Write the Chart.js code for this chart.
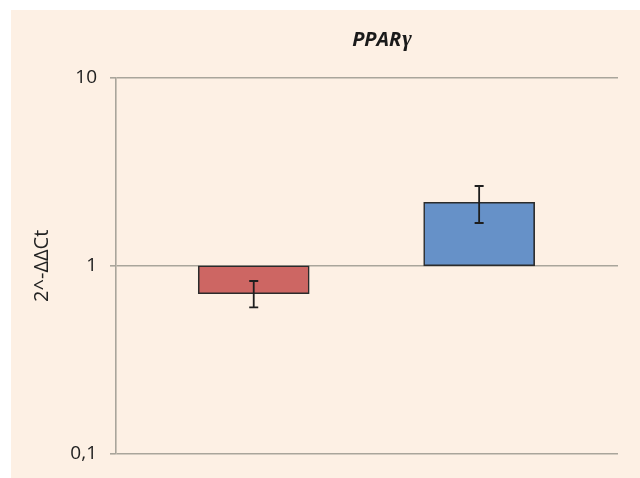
<!DOCTYPE html>
<html>
<head>
<meta charset="utf-8">
<script src="https://cdn.jsdelivr.net/npm/chart.js@4"></script>
<style>
  html, body { margin: 0; padding: 0; background: #ffffff; }
  #wrap { position: absolute; left: 11px; top: 10px; width: 629px; height: 468px; background: #fdf0e4; }
</style>
</head>
<body>
<div id="wrap"><canvas id="chart"></canvas></div>
<script>
// ===== data =====
const categories = ["Group 1", "Group 2"];
const foldChange = [0.71, 2.18];      // bar ends, bars start at 1
const errLow = [0.60, 1.69];
const errHigh = [0.83, 2.66];
const barColors = ["#cd6663", "#6691c8"];
const yTicks = [0.1, 1, 10];
const titleMain = "PPAR";
const titleGreek = "γ";
const yTitle = "2^-ΔΔCt";

const GRID = "#a9a59b";

// error bars drawn from the arrays through the scales
const errorBars = {
  id: "errorBars",
  afterDatasetsDraw(chart) {
    const { ctx, scales: { x, y } } = chart;
    ctx.save();
    ctx.strokeStyle = "#1e1e1e";
    ctx.lineWidth = 1.8;
    categories.forEach((c, i) => {
      const px = x.getPixelForValue(i + 1);
      const top = y.getPixelForValue(errHigh[i]);
      const bot = y.getPixelForValue(errLow[i]);
      ctx.beginPath();
      ctx.moveTo(px, top); ctx.lineTo(px, bot);
      ctx.moveTo(px - 4.5, top); ctx.lineTo(px + 4.5, top);
      ctx.moveTo(px - 4.5, bot); ctx.lineTo(px + 4.5, bot);
      ctx.stroke();
    });
    ctx.restore();
  }
};

// title: bold italic sans + serif greek letter
const mixedTitle = {
  id: "mixedTitle",
  afterDraw(chart) {
    const { ctx } = chart;
    ctx.save();
    ctx.fillStyle = "#1a1a1a";
    ctx.textBaseline = "alphabetic";
    const f1 = "italic bold 20px 'Open Sans'";
    const f2 = "italic bold 23px 'Liberation Serif'";
    ctx.font = f1;
    const w1 = ctx.measureText(titleMain).width;
    ctx.font = f2;
    const w2 = ctx.measureText(titleGreek).width;
    const cx = 371;
    const base = 35.5;
    let x0 = cx - (w1 + w2 + 1) / 2;
    ctx.font = f1;
    ctx.fillText(titleMain, x0, base);
    ctx.font = f2;
    ctx.fillText(titleGreek, x0 + w1 + 1, base);
    ctx.restore();
  }
};

new Chart(document.getElementById("chart"), {
  type: "bar",
  data: {
    datasets: [{
      label: "2^-ΔΔCt",
      data: foldChange.map((v, i) => ({ x: i + 1, y: [1, v] })),
      backgroundColor: barColors,
      borderColor: "#2b2b2b",
      borderWidth: 1.6,
      borderSkipped: false,
      barThickness: 111
    }]
  },
  options: {
    responsive: true,
    maintainAspectRatio: false,
    animation: false,
    layout: { padding: { left: 0, right: 22, top: 68, bottom: 23 } },
    plugins: {
      legend: { display: false },
      tooltip: { enabled: false },
      title: { display: false }
    },
    scales: {
      x: {
        type: "linear",
        display: false,
        offset: false,
        min: 0.389,
        max: 2.616
      },
      y: {
        type: "logarithmic",
        min: 0.1,
        max: 10,
        afterFit(scale) { scale.width = 105; },
        afterBuildTicks(scale) { scale.ticks = yTicks.map(v => ({ value: v })); },
        ticks: {
          color: "#222",
          padding: 13,
          font: { family: "'Open Sans'", size: 19 },
          callback: v => String(v).replace(".", ",")
        },
        grid: {
          color: GRID,
          lineWidth: 1.6,
          tickLength: 6,
          drawTicks: true
        },
        border: { display: true, color: GRID, width: 1.6 },
        title: {
          display: true,
          text: yTitle,
          color: "#222",
          font: { family: "'Open Sans'", size: 20 },
          padding: { top: 19, bottom: 0 }
        }
      }
    }
  },
  plugins: [errorBars, mixedTitle]
});
</script>
</body>
</html>
